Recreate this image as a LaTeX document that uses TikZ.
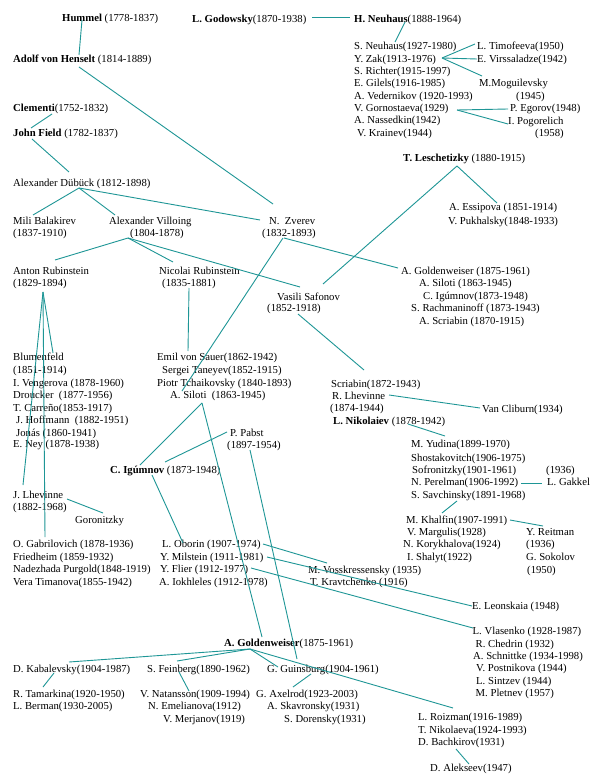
\documentclass[tikz,border=0pt]{standalone}
\usepackage{fontspec}
\setmainfont{Liberation Serif}
\definecolor{tealline}{RGB}{30,150,150}
\begin{document}
\begin{tikzpicture}[x=1pt,y=-1pt,
  lbl/.style={anchor=base west,inner sep=0pt,font=\fontsize{10.7}{12.5}\selectfont},
  conn/.style={draw=tealline,line width=0.9pt}]
\useasboundingbox[fill=white] (0,0) rectangle (590,775);
% top left
\node[lbl] (hummel) at (62,22) {\textbf{Hummel} (1778-1837)};
\node[lbl] (henselt) at (13,63) {\textbf{Adolf von Henselt} (1814-1889)};
\node[lbl] (clementi) at (13,112) {\textbf{Clementi}(1752-1832)};
\node[lbl] (field) at (13,137) {\textbf{John Field} (1782-1837)};
\node[lbl] (dubuck) at (13,187) {Alexander Dübück (1812-1898)};
\node[lbl] (mili) at (13,225) {Mili Balakirev};
\node[lbl] (mili2) at (13,237) {(1837-1910)};
\node[lbl] (villoing) at (109,225) {Alexander Villoing};
\node[lbl] (villoing2) at (130,237) {(1804-1878)};
\node[lbl] (zverev) at (269,225) {N.\ \ Zverev};
\node[lbl] (zverev2) at (262,237) {(1832-1893)};
\node[lbl] (anton) at (13,274) {Anton Rubinstein};
\node[lbl] (anton2) at (13,287) {(1829-1894)};
\node[lbl] (nicolai) at (159,274) {Nicolai Rubinstein};
\node[lbl] (nicolai2) at (162,287) {(1835-1881)};
\node[lbl] (safonov) at (277,300) {Vasili Safonov};
\node[lbl] (safonov2) at (267,311) {(1852-1918)};
% right goldenweiser block
\node[lbl] (goldA) at (401,274) {A. Goldenweiser (1875-1961)};
\node[lbl] (silotiA) at (419,286) {A. Siloti (1863-1945)};
\node[lbl] (igumA) at (423,299) {C. Igúmnov(1873-1948)};
\node[lbl] (rach) at (411,311) {S. Rachmaninoff (1873-1943)};
\node[lbl] (scriabA) at (419,324) {A. Scriabin (1870-1915)};
\node[lbl] (essipova) at (449,211) {A. Essipova (1851-1914)};
\node[lbl] (pukhalsky) at (448,225) {V. Pukhalsky(1848-1933)};
\node[lbl] (leschetizky) at (403,162) {\textbf{T. Leschetizky} (1880-1915)};
% top right
\node[lbl] (godowsky) at (192,23) {\textbf{L. Godowsky}(1870-1938)};
\node[lbl] (neuhaus) at (354,23) {\textbf{H. Neuhaus}(1888-1964)};
\node[lbl] (sneuhaus) at (354,49.5) {S. Neuhaus(1927-1980)};
\node[lbl] (zak) at (354,63) {Y. Zak(1913-1976)};
\node[lbl] (richter) at (354,74.5) {S. Richter(1915-1997)};
\node[lbl] (gilels) at (354,87) {E. Gilels(1916-1985)};
\node[lbl] (vedernikov) at (354,99.5) {A. Vedernikov (1920-1993)};
\node[lbl] (gornostaeva) at (354,112) {V. Gornostaeva(1929)};
\node[lbl] (nassedkin) at (354,124) {A. Nassedkin(1942)};
\node[lbl] (krainev) at (357,137) {V. Krainev(1944)};
\node[lbl] (timofeeva) at (477,49.5) {L. Timofeeva(1950)};
\node[lbl] (virssaladze) at (477,62.5) {E. Virssaladze(1942)};
\node[lbl] (moguilevsky) at (479,87) {M.Moguilevsky};
\node[lbl] (mog2) at (516,99.5) {(1945)};
\node[lbl] (egorov) at (510,112) {P. Egorov(1948)};
\node[lbl] (pogorelich) at (508,124.5) {I. Pogorelich};
\node[lbl] (pog2) at (535,137) {(1958)};
% middle right
\node[lbl] (scriabinB) at (331,387) {Scriabin(1872-1943)};
\node[lbl] (rlhevinne) at (332,399) {R. Lhevinne};
\node[lbl] (rlhev2) at (330,411) {(1874-1944)};
\node[lbl] (nikolaiev) at (333,424) {\textbf{L. Nikolaiev} (1878-1942)};
\node[lbl] (cliburn) at (482,412) {Van Cliburn(1934)};
\node[lbl] (yudina) at (411,447.5) {M. Yudina(1899-1970)};
\node[lbl] (shost) at (411,461) {Shostakovitch(1906-1975)};
\node[lbl] (sofron) at (412,473) {Sofronitzky(1901-1961)};
\node[lbl] (perelman) at (411,485) {N. Perelman(1906-1992)};
\node[lbl] (savch) at (411,498.5) {S. Savchinsky(1891-1968)};
\node[lbl] (y1936) at (546,473) {(1936)};
\node[lbl] (gakkel) at (547,485) {L. Gakkel};
\node[lbl] (khalfin) at (406,523) {M. Khalfin(1907-1991)};
\node[lbl] (margulis) at (407,535) {V. Margulis(1928)};
\node[lbl] (korykh) at (403,547.5) {N. Korykhalova(1924)};
\node[lbl] (shalyt) at (407,560) {I. Shalyt(1922)};
\node[lbl] (reitman) at (526,535) {Y. Reitman};
\node[lbl] (r1936) at (526,547.5) {(1936)};
\node[lbl] (sokolov) at (526,560) {G. Sokolov};
\node[lbl] (s1950) at (527,573) {(1950)};
% left column
\node[lbl] (blumenfeld) at (13,360) {Blumenfeld};
\node[lbl] (blum2) at (13,373.5) {(1851-1914)};
\node[lbl] (vengerova) at (13,386) {I. Vengerova (1878-1960)};
\node[lbl] (droucker) at (13,398.5) {Droucker\ \ (1877-1956)};
\node[lbl] (carreno) at (13,411) {T. Carreño(1853-1917)};
\node[lbl] (hoffmann) at (16,423.5) {J. Hoffmann\ \ (1882-1951)};
\node[lbl] (jonas) at (16,436) {Jonás (1860-1941)};
\node[lbl] (ney) at (13,447.5) {E. Ney (1878-1938)};
\node[lbl] (jlhevinne) at (13,498) {J. Lhevinne};
\node[lbl] (jlhev2) at (13,510) {(1882-1968)};
\node[lbl] (goronitzky) at (75,523) {Goronitzky};
\node[lbl] (gabrilovich) at (13,547.5) {O. Gabrilovich (1878-1936)};
\node[lbl] (friedheim) at (13,560) {Friedheim (1859-1932)};
\node[lbl] (purgold) at (13,572.5) {Nadezhada Purgold(1848-1919)};
\node[lbl] (timanova) at (13,585) {Vera Timanova(1855-1942)};
% middle column
\node[lbl] (sauer) at (157,360) {Emil von Sauer(1862-1942)};
\node[lbl] (taneyev) at (162,373.5) {Sergei Taneyev(1852-1915)};
\node[lbl] (tchaikovsky) at (157,386) {Piotr Tchaikovsky (1840-1893)};
\node[lbl] (silotiB) at (170,398.5) {A. Siloti\ \ (1863-1945)};
\node[lbl] (pabst) at (230,436) {P. Pabst};
\node[lbl] (pabst2) at (227,448.5) {(1897-1954)};
\node[lbl] (igumnov) at (110,473) {\textbf{C. Igúmnov} (1873-1948)};
\node[lbl] (oborin) at (162,547.5) {L. Oborin (1907-1974)};
\node[lbl] (milstein) at (160,560) {Y. Milstein (1911-1981)};
\node[lbl] (flier) at (160,572.5) {Y. Flier (1912-1977)};
\node[lbl] (iokhleles) at (159,585) {A. Iokhleles (1912-1978)};
\node[lbl] (vosskr) at (308,573) {M. Vosskressensky (1935)};
\node[lbl] (kravtchenko) at (310,585) {T. Kravtchenko (1916)};
\node[lbl] (leonskaia) at (472,609.5) {E. Leonskaia (1948)};
\node[lbl] (vlasenko) at (472.5,634.5) {L. Vlasenko (1928-1987)};
\node[lbl] (chedrin) at (475.5,647) {R. Chedrin (1932)};
\node[lbl] (schnittke) at (473,659) {A. Schnittke (1934-1998)};
\node[lbl] (postnikova) at (476,671.5) {V. Postnikova (1944)};
\node[lbl] (sintzev) at (476,684) {L. Sintzev (1944)};
\node[lbl] (pletnev) at (475.5,696.5) {M. Pletnev (1957)};
% bottom
\node[lbl] (goldenweiser) at (224,646.5) {\textbf{A. Goldenweiser}(1875-1961)};
\node[lbl] (kabalevsky) at (13,672.5) {D. Kabalevsky(1904-1987)};
\node[lbl] (tamarkina) at (13,697) {R. Tamarkina(1920-1950)};
\node[lbl] (berman) at (13,709.5) {L. Berman(1930-2005)};
\node[lbl] (feinberg) at (147,672.5) {S. Feinberg(1890-1962)};
\node[lbl] (natansson) at (140,697) {V. Natansson(1909-1994)};
\node[lbl] (emelianova) at (148,709.5) {N. Emelianova(1912)};
\node[lbl] (merjanov) at (163,722) {V. Merjanov(1919)};
\node[lbl] (guinsburg) at (267,672) {G. Guinsburg(1904-1961)};
\node[lbl] (axelrod) at (256,697) {G. Axelrod(1923-2003)};
\node[lbl] (skavronsky) at (267,709.5) {A. Skavronsky(1931)};
\node[lbl] (dorensky) at (284,722) {S. Dorensky(1931)};
\node[lbl] (roizman) at (418,720.5) {L. Roizman(1916-1989)};
\node[lbl] (nikolaeva) at (418,733) {T. Nikolaeva(1924-1993)};
\node[lbl] (bachkirov) at (418,745.5) {D. Bachkirov(1931)};
\node[lbl] (alekseev) at (430,771.5) {D. Alekseev(1947)};
% connectors
\draw[conn] ([shift={(20,-2)}]hummel.base west) -- ([shift={(66,-8)}]henselt.base west);
\draw[conn] ([shift={(66,4)}]henselt.base west) -- ([shift={(4,-21)}]zverev.base west);
\draw[conn] ([shift={(39,2)}]clementi.base west) -- ([shift={(18,-9)}]field.base west);
\draw[conn] ([shift={(19,2)}]field.base west) -- ([shift={(56,-15)}]dubuck.base west);
\draw[conn] ([shift={(66,1)}]dubuck.base west) -- ([shift={(20,-10)}]mili.base west);
\draw[conn] ([shift={(66,1)}]dubuck.base west) -- ([shift={(6,-10)}]villoing.base west);
\draw[conn] ([shift={(66,1)}]dubuck.base west) -- ([shift={(-9,-5)}]zverev.base west);
\draw[conn] ([shift={(-2,1)}]villoing2.base west) -- ([shift={(42,-14)}]anton.base west);
\draw[conn] ([shift={(-2,1)}]villoing2.base west) -- ([shift={(14,-12)}]nicolai.base west);
\draw[conn] ([shift={(-2,1)}]villoing2.base west) -- ([shift={(23,-13)}]safonov.base west);
\draw[conn] ([shift={(22,1)}]zverev2.base west) -- ([shift={(-3,-6)}]goldA.base west);
\draw[conn] ([shift={(21,1)}]zverev2.base west) -- ([shift={(12,-7.5)}]silotiB.base west);
\draw[conn] ([shift={(54,4)}]leschetizky.base west) -- ([shift={(46,-16)}]safonov.base west);
\draw[conn] ([shift={(54,4)}]leschetizky.base west) -- ([shift={(48,-8)}]essipova.base west);
\draw[conn] ([shift={(30,5)}]anton2.base west) -- ([shift={(40,-7)}]blumenfeld.base west);
\draw[conn] ([shift={(30,5)}]anton2.base west) -- ([shift={(10,-13)}]jlhevinne.base west);
\draw[conn] ([shift={(30,5)}]anton2.base west) -- ([shift={(32,-10.5)}]gabrilovich.base west);
\draw[conn] ([shift={(27,1)}]nicolai2.base west) -- ([shift={(31,-9)}]sauer.base west);
\draw[conn] ([shift={(31,3)}]safonov2.base west) -- ([shift={(33,-17)}]scriabinB.base west);
\draw[conn] ([shift={(57,-4)}]rlhevinne.base west) -- ([shift={(-2,-4)}]cliburn.base west);
\draw[conn] ([shift={(75,0)}]nikolaiev.base west) -- ([shift={(34,-11.5)}]yudina.base west);
\draw[conn] ([shift={(110,-2)}]perelman.base west) -- ([shift={(-5,-2)}]gakkel.base west);
\draw[conn] ([shift={(46,2.5)}]savch.base west) -- ([shift={(36,-10)}]khalfin.base west);
\draw[conn] ([shift={(104,-3)}]khalfin.base west) -- ([shift={(17,-9)}]reitman.base west);
\draw[conn] ([shift={(54,1)}]jlhevinne.base west) -- ([shift={(28,-10)}]goronitzky.base west);
\draw[conn] ([shift={(32,4.5)}]silotiB.base west) -- ([shift={(30,-8)}]igumnov.base west);
\draw[conn] ([shift={(32,4.5)}]silotiB.base west) -- ([shift={(38,-9.5)}]goldenweiser.base west);
\draw[conn] ([shift={(-3,-4)}]pabst.base west) -- ([shift={(55,-11)}]igumnov.base west);
\draw[conn] ([shift={(23,1.5)}]pabst2.base west) -- ([shift={(30,-13)}]guinsburg.base west);
\draw[conn] ([shift={(42,2)}]igumnov.base west) -- ([shift={(21,-4.5)}]oborin.base west);
\draw[conn] ([shift={(101,-3.5)}]oborin.base west) -- ([shift={(19,-10)}]vosskr.base west);
\draw[conn] ([shift={(107,-3)}]milstein.base west) -- ([shift={(0,-3.5)}]leonskaia.base west);
\draw[conn] ([shift={(91,-4.5)}]flier.base west) -- ([shift={(0.5,-6.5)}]vlasenko.base west);
\draw[conn] ([shift={(26,2.5)}]goldenweiser.base west) -- ([shift={(56,-10.5)}]kabalevsky.base west);
\draw[conn] ([shift={(26,2.5)}]goldenweiser.base west) -- ([shift={(30,-11.5)}]feinberg.base west);
\draw[conn] ([shift={(26,2.5)}]goldenweiser.base west) -- ([shift={(11,-5)}]guinsburg.base west);
\draw[conn] ([shift={(26,2.5)}]goldenweiser.base west) -- ([shift={(35,-12.5)}]roizman.base west);
\draw[conn] ([shift={(41,0.5)}]kabalevsky.base west) -- ([shift={(30,-10)}]tamarkina.base west);
\draw[conn] ([shift={(32,-0.5)}]feinberg.base west) -- ([shift={(49,-6)}]natansson.base west);
\draw[conn] ([shift={(44,2)}]guinsburg.base west) -- ([shift={(37,-10)}]axelrod.base west);
\draw[conn] ([shift={(38,3.5)}]bachkirov.base west) -- ([shift={(39,-7.5)}]alekseev.base west);
\draw[conn] ([shift={(120,-6)}]godowsky.base west) -- ([shift={(-4,-6)}]neuhaus.base west);
\draw[conn] ([shift={(51,-1)}]neuhaus.base west) -- ([shift={(41,-7.5)}]sneuhaus.base west);
\draw[conn] ([shift={(88,-5)}]zak.base west) -- ([shift={(-2,-5.5)}]timofeeva.base west);
\draw[conn] ([shift={(88,-5)}]zak.base west) -- ([shift={(0,-3.5)}]virssaladze.base west);
\draw[conn] ([shift={(88,-5)}]zak.base west) -- ([shift={(3,-11)}]moguilevsky.base west);
\draw[conn] ([shift={(103,-2)}]gornostaeva.base west) -- ([shift={(-2,-3)}]egorov.base west);
\draw[conn] ([shift={(103,-2)}]gornostaeva.base west) -- ([shift={(0,-0.5)}]pogorelich.base west);
\end{tikzpicture}
\end{document}
